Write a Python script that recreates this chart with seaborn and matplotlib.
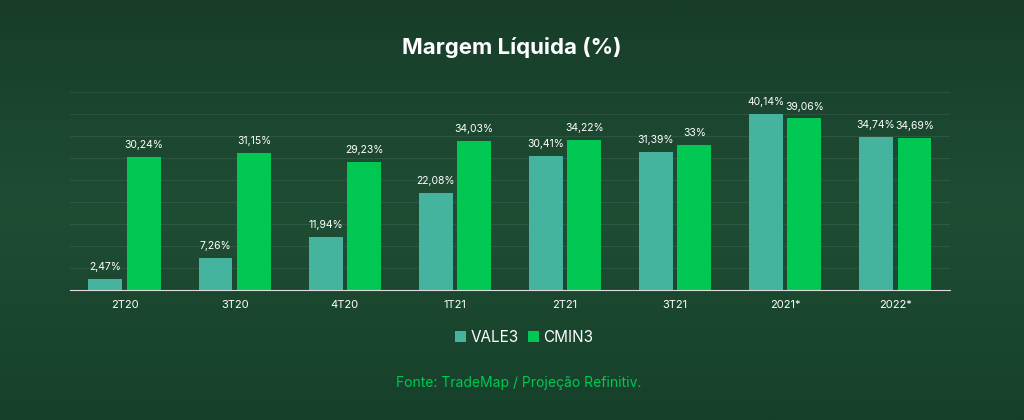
import matplotlib
matplotlib.use("Agg")
import matplotlib.pyplot as plt
import seaborn as sns
import pandas as pd
import numpy as np
from matplotlib.colors import LinearSegmentedColormap

categories = ["2T20", "3T20", "4T20", "1T21", "2T21", "3T21", "2021*", "2022*"]
vale3 = [2.47, 7.26, 11.94, 22.08, 30.41, 31.39, 40.14, 34.74]
cmin3 = [30.24, 31.15, 29.23, 34.03, 34.22, 33.0, 39.06, 34.69]
vale_labels = ["2,47%", "7,26%", "11,94%", "22,08%", "30,41%", "31,39%", "40,14%", "34,74%"]
cmin_labels = ["30,24%", "31,15%", "29,23%", "34,03%", "34,22%", "33%", "39,06%", "34,69%"]

df = pd.DataFrame({"cat": categories * 2, "val": vale3 + cmin3,
                   "serie": ["VALE3"] * 8 + ["CMIN3"] * 8})

sns.set_style("white")
plt.rcParams["font.family"] = ["Inter", "DejaVu Sans"]
fig = plt.figure(figsize=(10.24, 4.2), dpi=100)
grad = np.linspace(0, 1, 256).reshape(-1, 1)
bgax = fig.add_axes([0, 0, 1, 1])
cm = LinearSegmentedColormap.from_list("bg", ["#173d29", "#1f4d34", "#16402a"])
bgax.imshow(grad, aspect="auto", cmap=cm, extent=[0, 1, 0, 1])
bgax.axis("off")

ax = fig.add_axes([0.068, 0.31, 0.86, 0.47])
ax.set_facecolor("none")
sns.barplot(data=df, x="cat", y="val", hue="serie", palette=["#45b39d", "#00c853"],
            ax=ax, width=0.7, gap=0.12, saturation=1, linewidth=0, edgecolor="none")
ax.set_ylim(0, 45)
ax.set_yticks(np.arange(0, 46, 5))
ax.yaxis.grid(True, color="#ffffff", alpha=0.08, lw=0.8)
ax.set_axisbelow(True)
ax.tick_params(axis="y", left=False, labelleft=False)
ax.tick_params(axis="x", colors="white", labelsize=8, length=4, color="#cccccc")
ax.set_xlabel(""); ax.set_ylabel("")
for s in ["top", "right", "left"]:
    ax.spines[s].set_visible(False)
ax.spines["bottom"].set_color("#dddddd")
ax.set_xlim(-0.5, 7.5)
ax.set_xticks(np.arange(-0.5, 8, 1), minor=True)
ax.tick_params(axis="x", which="major", length=0, pad=7)
ax.tick_params(axis="x", which="minor", length=4, color="#dddddd")
for cont, labs in zip(ax.containers, [vale_labels, cmin_labels]):
    ax.bar_label(cont, labels=labs, color="white", fontsize=7.5, padding=5)
ax.legend_.remove()
h, l = ax.get_legend_handles_labels()
fig.legend(h, l, loc="center", bbox_to_anchor=(0.512, 0.197), ncol=2, frameon=False,
           labelcolor="white", fontsize=11, handlelength=0.7, handleheight=0.7,
           columnspacing=0.6, handletextpad=0.3)
fig.text(0.5, 0.888, "Margem Líquida (%)", ha="center", va="center", color="white",
         fontsize=16, fontweight="bold")
fig.text(0.507, 0.088, "Fonte: TradeMap / Projeção Refinitiv.", ha="center", va="center",
         color="#00c853", fontsize=10)
fig.savefig("out.png", dpi=100)
